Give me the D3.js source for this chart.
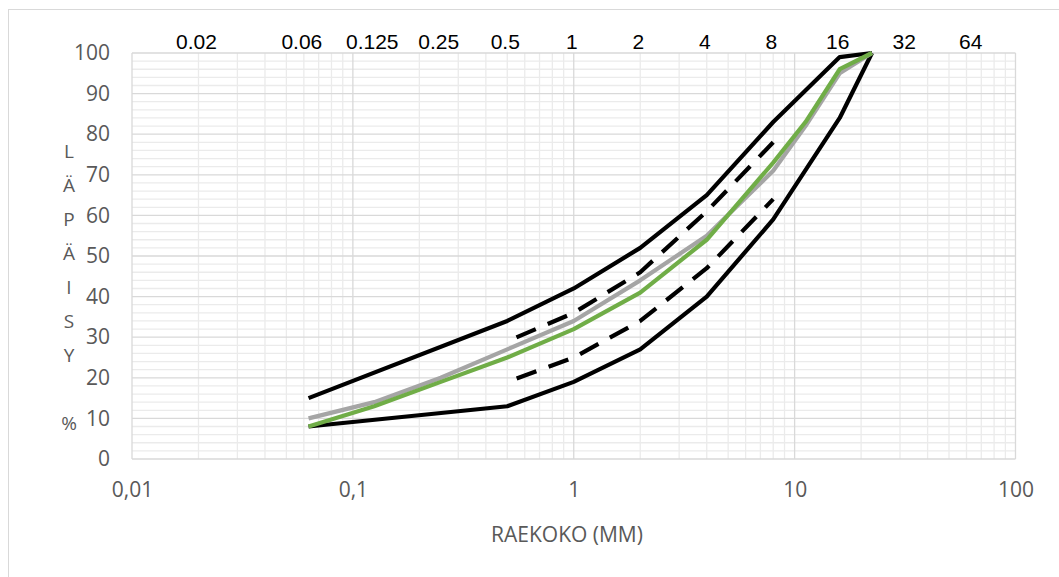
<!DOCTYPE html>
<html>
<head>
<meta charset="utf-8">
<script src="https://cdn.jsdelivr.net/npm/d3@7"></script>
<style>
  body { margin: 0; background: #fff; }
  svg { display: block; }
</style>
</head>
<body>
<svg id="chart" width="1059" height="577"></svg>
<script>
// sieve sizes (mm)
const sizes = [0.063, 0.125, 0.25, 0.5, 1, 2, 4, 8, 11.2, 16, 22.4];

// passing %, null where the series has no point
const upperLimit  = [15, null, null, 34, 42, 52, 65, 83, null, 99, 100];
const lowerLimit  = [8, null, null, 13, 19, 27, 40, 59, null, 84, 100];
const upperDashed = [null, null, null, 29, 36, 46, 61, 78, null, null, null];
const lowerDashed = [null, null, null, 19, 25, 34, 47, 64, null, null, null];
const graySeries  = [10, 14, 20, 27, 34, 44, 55, 71, 82, 95, 100];
const greenSeries = [8, 13, 19, 25, 32, 41, 54, 73, 83, 96, 100];

const xTicks = [0.01, 0.1, 1, 10, 100];
const xTickLabels = ["0,01", "0,1", "1", "10", "100"];
const yTicks = [0, 10, 20, 30, 40, 50, 60, 70, 80, 90, 100];
const topLabels = ["0.02", "0.06", "0.125", "0.25", "0.5", "1", "2", "4", "8", "16", "32", "64"];
const yTitle = "LÄPÄISY %";
const xTitle = "RAEKOKO (MM)";

const svg = d3.select("#chart");

// chart area border
svg.append("rect")
  .attr("x", 8.5).attr("y", 9.5)
  .attr("width", 1200).attr("height", 700)
  .attr("fill", "none").attr("stroke", "#d9d9d9");

const x = d3.scaleLog().domain([0.01, 100]).range([132, 1015.5]);
const y = d3.scaleLinear().domain([0, 100]).range([459, 53]);

const isMajor = v => Math.abs(Math.log10(v) - Math.round(Math.log10(v))) < 1e-9;

// minor grid first, then major
const grid = svg.append("g");
grid.selectAll(".vminor").data(x.ticks().filter(v => !isMajor(v)))
  .join("line")
    .attr("x1", d => x(d)).attr("x2", d => x(d))
    .attr("y1", y(0)).attr("y2", y(100))
    .attr("stroke", "#ebebeb").attr("stroke-width", 1.3);
grid.selectAll(".hminor").data(y.ticks(50).filter(v => v % 10 !== 0))
  .join("line")
    .attr("x1", x(0.01)).attr("x2", x(100))
    .attr("y1", d => y(d)).attr("y2", d => y(d))
    .attr("stroke", "#ebebeb").attr("stroke-width", 1.3);
grid.selectAll(".vmajor").data(xTicks)
  .join("line")
    .attr("x1", d => x(d)).attr("x2", d => x(d))
    .attr("y1", y(0)).attr("y2", y(100))
    .attr("stroke", "#d9d9d9").attr("stroke-width", 1.3);
grid.selectAll(".hmajor").data(yTicks)
  .join("line")
    .attr("x1", x(0.01)).attr("x2", x(100))
    .attr("y1", d => y(d)).attr("y2", d => y(d))
    .attr("stroke", "#d9d9d9").attr("stroke-width", 1.3);

// axes
const xAxis = svg.append("g")
  .attr("transform", `translate(0,${y(0)})`)
  .call(d3.axisBottom(x).tickValues(xTicks)
    .tickFormat((d, i) => xTickLabels[i]).tickSize(0).tickPadding(23));
const yAxis = svg.append("g")
  .attr("transform", `translate(${x(0.01)},0)`)
  .call(d3.axisLeft(y).tickValues(yTicks).tickSize(0).tickPadding(22));
[xAxis, yAxis].forEach(a => {
  a.select(".domain").remove();
  a.selectAll("text")
    .attr("font-family", "'Open Sans', sans-serif")
    .attr("font-size", 21)
    .attr("fill", "#595959");
});

// lines
const line = d3.line()
  .x(d => x(d[0]))
  .y(d => y(d[1]));
const pts = vals => sizes.map((s, i) => [s, vals[i]]).filter(d => d[1] != null);

const series = [
  { vals: upperLimit,  color: "#000000", dash: null },
  { vals: lowerLimit,  color: "#000000", dash: null },
  { vals: upperDashed, color: "#000000", dash: "21 13" },
  { vals: lowerDashed, color: "#000000", dash: "21 13" },
  { vals: graySeries,  color: "#a5a5a5", dash: null },
  { vals: greenSeries, color: "#70ad47", dash: null }
];

svg.append("g").selectAll("path").data(series)
  .join("path")
    .attr("d", d => line(pts(d.vals)))
    .attr("fill", "none")
    .attr("stroke", d => d.color)
    .attr("stroke-width", 4.2)
    .attr("stroke-linejoin", "round")
    .attr("stroke-dasharray", d => d.dash)
    .attr("stroke-dashoffset", d => d.dash ? 24 : null);

// sieve size labels above the plot
svg.append("g").selectAll("text").data(topLabels)
  .join("text")
    .attr("x", d => x(+d) - 2)
    .attr("y", 48.5)
    .attr("text-anchor", "middle")
    .attr("font-family", "'Liberation Sans', Arial, sans-serif")
    .attr("font-size", 21)
    .attr("fill", "#000")
    .text(d => d);

// axis titles
svg.append("text")
  .attr("font-family", "'Open Sans', sans-serif")
  .attr("font-size", 19)
  .attr("fill", "#595959")
  .attr("text-anchor", "middle")
  .selectAll("tspan").data(yTitle.split(""))
  .join("tspan")
    .attr("x", 69)
    .attr("y", (d, i) => 158 + 34 * i)
    .text(d => d);

svg.append("text")
  .attr("x", 567).attr("y", 542)
  .attr("text-anchor", "middle")
  .attr("font-family", "'Open Sans', sans-serif")
  .attr("font-size", 21)
  .attr("fill", "#595959")
  .text(xTitle);
</script>
</body>
</html>
